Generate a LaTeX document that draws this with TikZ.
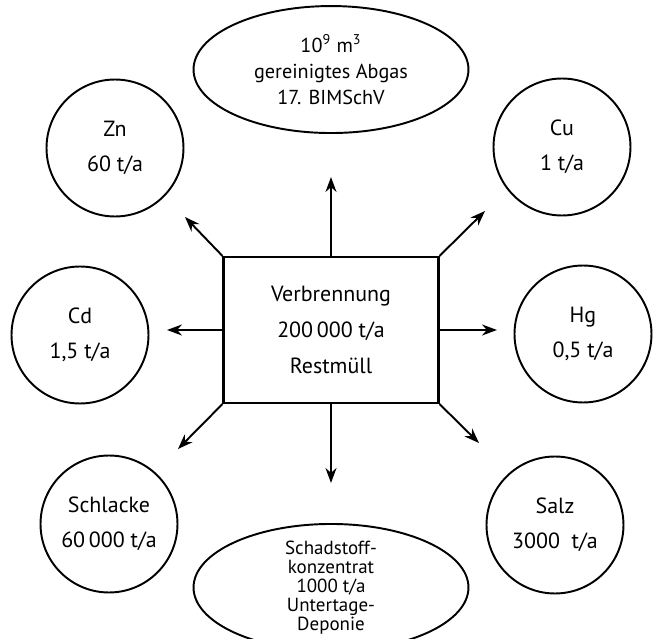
\documentclass[tikz,border=0pt]{standalone}
\usepackage{fontspec}
\setmainfont{PT Sans}
\usetikzlibrary{arrows.meta,positioning,shapes.geometric}

\begin{document}
\begin{tikzpicture}[
x=0.02cm,y=-0.02cm,
ofen/.style={draw,line width=1.2pt,minimum width=43mm,minimum height=29.2mm,align=center,font=\fontsize{12.5}{20.5}\selectfont},
stoff/.style={draw,circle,line width=1.1pt,minimum size=27.4mm,align=center,font=\fontsize{12.5}{20}\selectfont},
ausgang/.style={draw,ellipse,line width=1.1pt,minimum width=55mm,minimum height=25.4mm,align=center,font=\fontsize{11.5}{14.7}\selectfont},
t/.style={line width=1.1pt,-{Stealth[length=3mm,width=2.2mm]}}
]
\useasboundingbox (0,0) rectangle (654,639);

\node[ofen] (ofen) at (331,330) {Verbrennung\\200\,000 t/a\\Restmüll};
\node[ausgang,above=24.4mm of ofen] (abgas) {10\textsuperscript{9} m\textsuperscript{3}\\gereinigtes Abgas\\17. BIMSchV};
\node[ausgang,below=23.8mm of ofen,inner ysep=-12pt,font=\fontsize{10.8}{10.8}\selectfont] (deponie) {Schadstoff-\\konzentrat\\1000 t/a\\Untertage-\\Deponie};

\node[stoff] (zn) at (115,148) {Zn\\60 t/a};
\node[stoff] (cu) at (562,147) {Cu\\1 t/a};
\node[stoff] (cd) at (80,335) {Cd\\1,5 t/a};
\node[stoff] (hg) at (583,334) {Hg\\0,5 t/a};
\node[stoff] (schlacke) at (109,524) {Schlacke\\60\,000 t/a};
\node[stoff] (salz) at (555,525) {Salz\\3000\ \ t/a};

% Pfeilspitzen enden frei vor den Kreisen
\coordinate (abgas-end) at (331,177);
\coordinate (zn-end) at (185,217);
\coordinate (cu-end) at (485,211);
\coordinate (cd-end) at (167,330);
\coordinate (hg-end) at (497,330);
\coordinate (schlacke-end) at (178,449);
\coordinate (salz-end) at (479,443);
\coordinate (deponie-end) at (331,483);

\draw[t] (ofen.north) -- (abgas-end);
\draw[t] (ofen.north west) -- (zn-end);
\draw[t] (ofen.north east) -- (cu-end);
\draw[t] (ofen.west) -- (cd-end);
\draw[t] (ofen.east) -- (hg-end);
\draw[t] (ofen.south west) -- (schlacke-end);
\draw[t] (ofen.south east) -- (salz-end);
\draw[t] (ofen.south) -- (deponie-end);
\end{tikzpicture}
\end{document}
